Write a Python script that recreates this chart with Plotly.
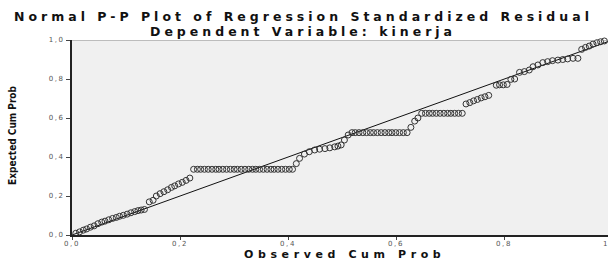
import plotly.graph_objects as go

# Observed cumulative probability (x) and expected cumulative probability (y)
observed_cum_prob = [
    0.007, 0.014, 0.021, 0.027, 0.034, 0.041, 0.048, 0.055, 0.061, 0.068,
    0.075, 0.082, 0.088, 0.095, 0.102, 0.109, 0.116, 0.122, 0.128, 0.134,
    0.143, 0.150, 0.156, 0.163, 0.170, 0.177, 0.184, 0.190, 0.197, 0.204,
    0.211, 0.218,
    0.225, 0.232, 0.238, 0.245, 0.252, 0.259, 0.266, 0.272, 0.279, 0.286,
    0.293, 0.300, 0.306, 0.313, 0.320, 0.327, 0.334, 0.340, 0.347, 0.354,
    0.361, 0.368, 0.374, 0.381, 0.388, 0.395, 0.402, 0.408,
    0.415, 0.421, 0.430, 0.439, 0.449, 0.458, 0.468, 0.477, 0.486, 0.492,
    0.498, 0.504, 0.511,
    0.518, 0.524, 0.531, 0.538, 0.545, 0.552, 0.558, 0.565, 0.572, 0.579,
    0.586, 0.592, 0.599, 0.606, 0.613, 0.620,
    0.627, 0.634, 0.640,
    0.647, 0.654, 0.661, 0.667, 0.674, 0.681, 0.688, 0.695, 0.701, 0.708,
    0.715, 0.722,
    0.729, 0.736, 0.743, 0.750, 0.757, 0.764, 0.771,
    0.785, 0.791, 0.798, 0.805, 0.812, 0.819,
    0.828, 0.837, 0.846, 0.853, 0.862, 0.871, 0.880, 0.889, 0.899, 0.908,
    0.917, 0.927, 0.936,
    0.943, 0.950, 0.957, 0.964, 0.971, 0.978, 0.985, 0.992, 1.000,
]
expected_cum_prob = [
    0.009, 0.016, 0.025, 0.031, 0.040, 0.047, 0.058, 0.066, 0.071, 0.078,
    0.085, 0.090, 0.096, 0.101, 0.107, 0.114, 0.120, 0.125, 0.128, 0.131,
    0.170, 0.178, 0.200, 0.212, 0.222, 0.232, 0.244, 0.252, 0.262, 0.270,
    0.280, 0.292,
    0.337, 0.337, 0.337, 0.337, 0.337, 0.337, 0.337, 0.337, 0.337, 0.337,
    0.337, 0.337, 0.337, 0.337, 0.337, 0.337, 0.337, 0.337, 0.337, 0.337,
    0.337, 0.337, 0.337, 0.337, 0.337, 0.337, 0.337, 0.337,
    0.366, 0.393, 0.415, 0.427, 0.436, 0.440, 0.443, 0.447, 0.452, 0.456,
    0.462, 0.487, 0.513,
    0.525, 0.525, 0.525, 0.525, 0.525, 0.525, 0.525, 0.525, 0.525, 0.525,
    0.525, 0.525, 0.525, 0.525, 0.525, 0.525,
    0.552, 0.584, 0.600,
    0.624, 0.624, 0.624, 0.624, 0.624, 0.624, 0.624, 0.624, 0.624, 0.624,
    0.624, 0.624,
    0.672, 0.679, 0.688, 0.695, 0.703, 0.709, 0.716,
    0.768, 0.770, 0.770, 0.772, 0.798, 0.800,
    0.834, 0.838, 0.846, 0.863, 0.872, 0.884, 0.889, 0.894, 0.897, 0.900,
    0.903, 0.906, 0.906,
    0.952, 0.962, 0.969, 0.979, 0.986, 0.991, 0.995, 1.000, 1.000,
]
ref_line = [0.0, 1.0]

tick_vals = [0.0, 0.2, 0.4, 0.6, 0.8, 1.0]
y_tick_text = ["0,0", "0,2", "0,4", "0,6", "0,8", "1,0"]
x_tick_text = ["0,0", "0,2", "0,4", "0,6", "0,8", "1"]

title_line1 = "Normal P-P Plot of Regression Standardized Residual"
title_line2 = "Dependent Variable: kinerja"
x_title = "Observed Cum Prob"
y_title = "Expected Cum Prob"

W, H = 608, 260
L, T, B = 72, 40, 25
PW, PH = W - L, H - T - B
x_max = (W - L) / 540.5


def px(x):
    return (x - L) / PW


def py(y):
    return (H - B - y) / PH


def spaced(text, ls):
    return '<span style="letter-spacing:%spx">%s</span>' % (ls, text)


fig = go.Figure()
fig.add_trace(go.Scatter(
    x=ref_line, y=ref_line, mode="lines",
    line=dict(color="#111111", width=1), hoverinfo="skip", showlegend=False,
))
fig.add_trace(go.Scatter(
    x=observed_cum_prob, y=expected_cum_prob, mode="markers",
    marker=dict(symbol="circle-open", size=6, color="#333333",
                line=dict(width=1, color="#333333")),
    cliponaxis=False, showlegend=False,
))

tick_font = dict(family="DejaVu Sans", size=7, color="#555555")
fig.update_xaxes(
    range=[0, x_max], tickvals=tick_vals[:-1], showticklabels=False,
    showgrid=False, zeroline=False, showline=True, linecolor="#222222",
    linewidth=2, ticks="outside", ticklen=3, tickcolor="#444444",
    mirror=False,
)
fig.update_yaxes(
    range=[0, 1], tickvals=tick_vals,
    ticktext=[spaced(t, 1.6) for t in y_tick_text],
    showgrid=False, zeroline=False, showline=True, linecolor="#222222",
    linewidth=2, ticks="outside", ticklen=4, tickcolor="#444444",
    tickfont=tick_font,
)
# top border of the plot frame
fig.add_shape(type="line", xref="paper", yref="y", x0=0, x1=1, y0=1, y1=1,
              line=dict(color="#888888", width=1))

layout_annos = []
# x tick labels placed on the x axis scale
for v, t in zip(tick_vals[:-1], x_tick_text[:-1]):
    layout_annos.append(dict(
        text=spaced(t, 1.6), xref="x", yref="paper", x=v, y=py(243.5),
        xanchor="center", yanchor="middle", showarrow=False, font=tick_font,
        borderpad=0,
    ))
layout_annos.append(dict(
    text=x_tick_text[-1], xref="paper", yref="paper", x=1.0, y=py(243.5),
    xanchor="right", yanchor="middle", showarrow=False, font=tick_font,
    borderpad=0,
))

annos = [
    (title_line1, 303, 16.5, 12.5, 4.0),
    (title_line2, 303, 32, 12.5, 4.0),
    (x_title, 344, 254, 11, 4.6),
]
for text, x, y, size, ls in annos:
    layout_annos.append(dict(
        text="<b>" + spaced(text, ls) + "</b>", xref="paper", yref="paper",
        x=px(x), y=py(y), xanchor="center", yanchor="middle",
        showarrow=False, borderpad=0,
        font=dict(family="DejaVu Sans", size=size, color="#111111"),
    ))
layout_annos.append(dict(
    text="<b>" + y_title + "</b>", xref="paper", yref="paper",
    x=px(12), y=py(135), textangle=-90, showarrow=False,
    xanchor="center", yanchor="middle",
    font=dict(family="Liberation Sans Narrow, DejaVu Sans Condensed", size=10,
              color="#111111"),
))

fig.update_layout(
    width=W, height=H, autosize=False,
    margin=dict(l=L, r=0, t=T, b=B, pad=0),
    paper_bgcolor="white", plot_bgcolor="#f0f0f0",
    annotations=layout_annos,
    showlegend=False,
)

fig.write_html(
    "out.html",
    config={"displayModeBar": False},
    post_script="document.body.style.margin='0';document.body.style.overflow='hidden';",
)
